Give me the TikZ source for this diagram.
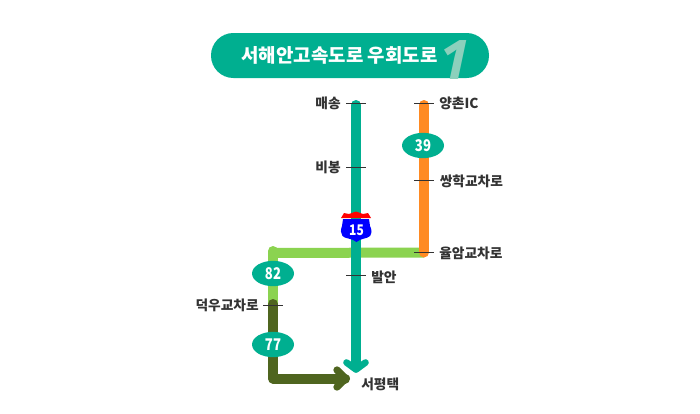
\documentclass[tikz,border=0pt]{standalone}
\usepackage{fontspec}
\setmainfont{Noto Sans CJK KR}
\newfontfamily\latinbold{Open Sans}
\usetikzlibrary{arrows.meta,shapes.geometric}
\definecolor{teal1}{HTML}{00AF90}
\definecolor{orange1}{HTML}{FF8A22}
\definecolor{lime1}{HTML}{8BD350}
\definecolor{olive1}{HTML}{4F651F}
\definecolor{one1}{HTML}{8CD0BC}
\definecolor{ink}{HTML}{333333}
\newcommand{\exitnum}[1]{\scalebox{.9}[1.1]{#1}}
\tikzset{
  route/.style={line width=7.5pt,line cap=round,line join=round},
  tickmark/.style={draw=ink,line width=0.55pt},
  place/.style={font=\fontsize{10.3pt}{12pt}\selectfont\bfseries,text=ink,inner sep=0pt},
  exit/.style={ellipse,fill=teal1,text=white,minimum width=31.5pt,minimum height=19pt,inner sep=0pt,font=\fontsize{11pt}{12pt}\selectfont\bfseries},
}
\begin{document}
\begin{tikzpicture}[x=0.75pt,y=-0.75pt]
\useasboundingbox (0,0) rectangle (700,414);
% title
\fill[teal1,rounded corners=16.8pt] (211,33) rectangle (489,78);
\begin{scope}
\clip (400,33) rectangle (489,78);
\node[font=\latinbold\fontsize{42pt}{42pt}\selectfont\bfseries\itshape,text=one1,inner sep=0pt] (one) at (455,61) {1};
\end{scope}
\node[text=white,inner sep=0pt,font=\fontsize{14.2pt}{15pt}\selectfont\bfseries] (title) at (339.5,55.5) {서해안고속도로 우회도로};
% route coordinates
\coordinate (tealtop) at (356,105);
\coordinate (tealend) at (356,369);
\coordinate (orgtop) at (424,105);
\coordinate (orgend) at (424,252.5);
\coordinate (limecorner) at (273,253);
\coordinate (limetop) at (273,251);
\coordinate (limeend) at (273,305);
\coordinate (olivetop) at (273,304);
\coordinate (olivecorner) at (273,378.5);
\coordinate (oliveend) at (345,378.5);
% routes
\draw[route,lime1,line cap=butt] (limecorner) -- (orgend);
\draw[route,lime1] (limetop) -- (limeend);
\draw[route,orange1] (orgtop) -- (orgend);
\draw[route,teal1,line cap=butt] (tealtop) -- (tealend);
\fill[teal1] (tealtop) circle (5);
\draw[teal1,line width=5pt,line cap=round,line join=round] (346.5,362.5) -- (356,369.5) -- (365.5,362.5);
\fill[teal1] (346,362) -- (356,370) -- (366,362) -- cycle;
\draw[route,olive1] (olivetop) -- (olivecorner) -- (oliveend);
\draw[olive1,line width=5.5pt,line cap=round,line join=round] (337,370) -- (345.5,378.5) -- (337,387);
\fill[olive1] (337,369) -- (346,378.5) -- (337,388) -- cycle;
% tick marks and labels
\node[place,anchor=east] (maesong) at (341,103) {매송};
\coordinate (tA1) at (346,103); \coordinate (tA2) at (366,103);
\draw[tickmark] (tA1) -- (tA2);
\node[place,anchor=east] (bibong) at (341,167.5) {비봉};
\coordinate (tB1) at (346,167); \coordinate (tB2) at (366,167);
\draw[tickmark] (tB1) -- (tB2);
\node[place,anchor=west] (yangchon) at (439,103) {양촌IC};
\coordinate (tC1) at (414,103); \coordinate (tC2) at (434,103);
\draw[tickmark] (tC1) -- (tC2);
\node[place,anchor=west] (ssanghak) at (439.5,181.5) {쌍학교차로};
\coordinate (tD1) at (414,180.5); \coordinate (tD2) at (434,180.5);
\draw[tickmark] (tD1) -- (tD2);
\node[place,anchor=west] (yulam) at (439,253) {율암교차로};
\coordinate (tE1) at (414,252.5); \coordinate (tE2) at (434,252.5);
\draw[tickmark] (tE1) -- (tE2);
\node[place,anchor=west] (balan) at (371,277) {발안};
\coordinate (tF1) at (346,275); \coordinate (tF2) at (366,275);
\draw[tickmark] (tF1) -- (tF2);
\node[place,anchor=east] (deogu) at (259,305.5) {덕우교차로};
\coordinate (tG1) at (263,305); \coordinate (tG2) at (283,305);
\draw[tickmark] (tG1) -- (tG2);
\node[place,anchor=west] (seopyeong) at (361,384) {서평택};
% exits
\node[exit] (e39) at (423,145.5) {\exitnum{39}};
\node[exit] (e82) at (273,273.5) {\exitnum{82}};
\node[exit] (e77) at (273,344.5) {\exitnum{77}};
% shield
\fill[red] (341,218) -- (344,213) -- (349,214) -- (353,212.5) -- (356,211.5) -- (359,212.5) -- (363,214) -- (368,213) -- (371,218) -- cycle;
\fill[blue] (343,219) -- (369,219) -- (370,226) .. controls (372,230) and (372,233) .. (370,236)
  .. controls (367,239) and (361,238) .. (356.5,242) .. controls (352,238) and (345,239) .. (342.5,236)
  .. controls (340.5,233) and (340.5,230) .. (342,226) -- cycle;
\node[text=white,inner sep=0pt,font=\fontsize{10pt}{12pt}\selectfont\bfseries] (route15) at (356.5,230) {\exitnum{15}};
\end{tikzpicture}
\end{document}
